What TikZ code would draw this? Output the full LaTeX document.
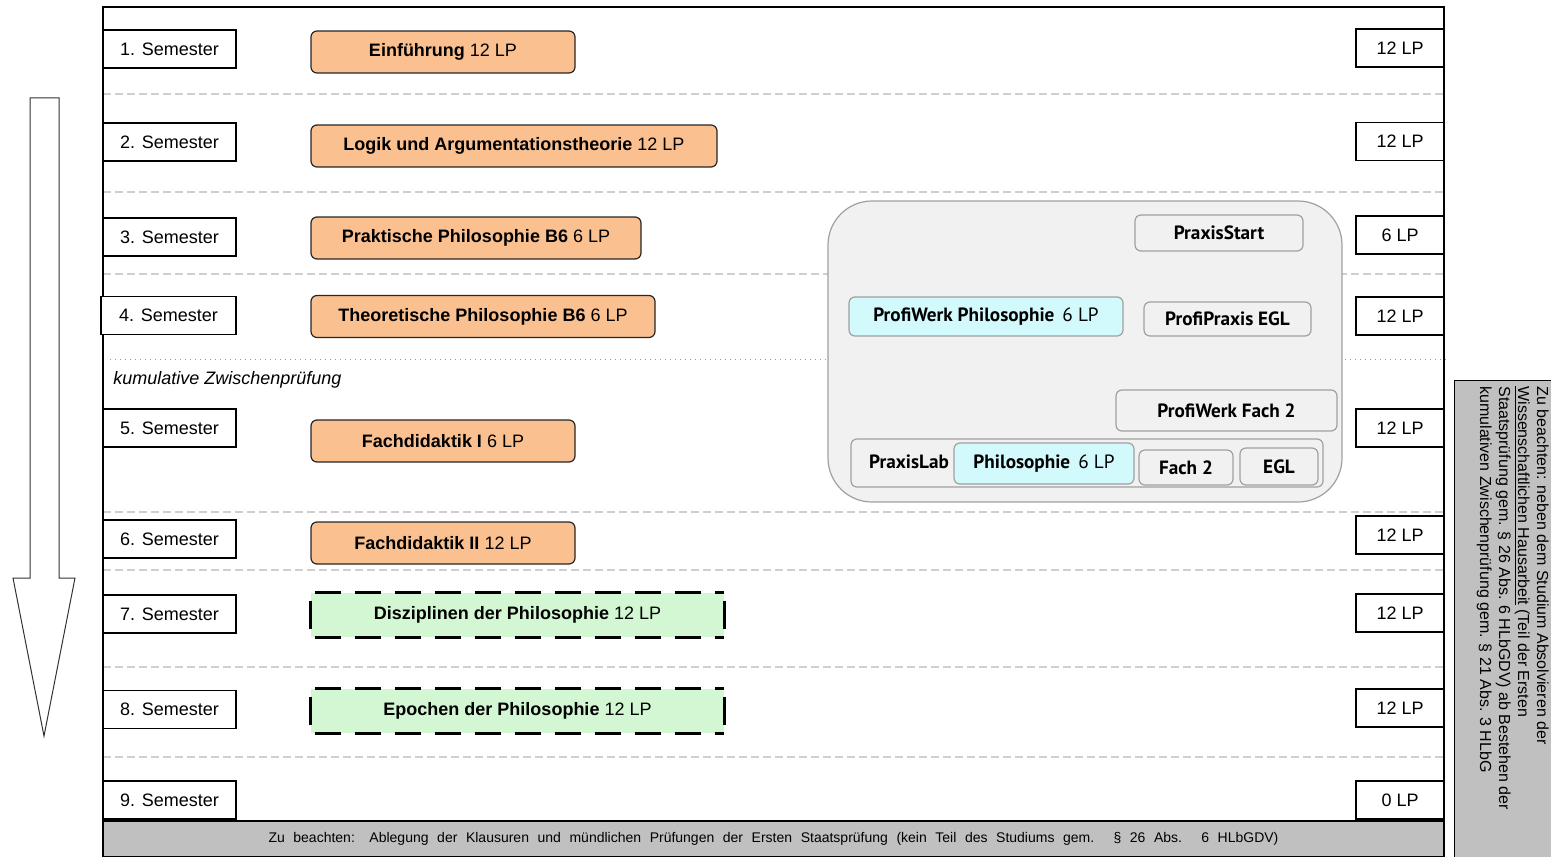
\documentclass[tikz,border=0pt]{standalone}
\usepackage{fontspec}
\setmainfont{Liberation Sans}
\newfontfamily\pxf{PT Sans}
\definecolor{orangefill}{HTML}{FAC090}
\definecolor{greenfill}{HTML}{D2F7D2}
\definecolor{cyanfill}{HTML}{D2F9FC}
\definecolor{pfill}{HTML}{F1F1F1}
\definecolor{pgray}{HTML}{A0A0A0}
\definecolor{barfill}{HTML}{C0C0C0}
\definecolor{sepgray}{HTML}{CFCFCF}
\tikzset{
  semb/.style={draw=black, line width=0.7pt, fill=white, minimum width=66.5pt, minimum height=19pt, inner sep=0pt, font=\fontsize{9}{10}\selectfont},
  lpb/.style={semb, minimum width=44pt},
  modb/.style={draw=black!85, line width=0.6pt, fill=orangefill, rounded corners=3pt, minimum height=21pt, inner sep=0pt, font=\fontsize{9}{10}\selectfont},
  gmod/.style={fill=greenfill, minimum width=206.5pt, minimum height=22pt, inner sep=0pt, font=\fontsize{9}{10}\selectfont},
  gdash/.style={line width=1.5pt, dash pattern=on 13pt off 7pt},
  gside/.style={line width=1.5pt},
  pbox/.style={draw=pgray, line width=0.6pt, fill=pfill, rounded corners=3pt, inner sep=0pt, font=\pxf\bfseries\fontsize{9.6}{11}\selectfont},
  cbox/.style={pbox, fill=cyanfill},
  sepline/.style={draw=sepgray, line width=0.6pt, dash pattern=on 4pt off 2pt},
}
\begin{document}
\begin{tikzpicture}[x=0.5pt,y=-0.5pt]
\useasboundingbox (0,0) rectangle (1551,856);
% separators
\foreach \yy in {94,192,274,512,570,667,757}{
  \draw[sepline] (103,\yy) -- (1444,\yy);
}
\draw[gray!80, line width=0.5pt, dotted] (110,359) -- (1448,359);
\node[anchor=west, inner sep=0pt, font=\itshape\fontsize{9}{10}\selectfont] (kz) at (113,380) {kumulative Zwischenprüfung};

% praxis area
\node[draw=pgray, line width=0.6pt, fill=pfill, rounded corners=22pt, minimum width=257pt, minimum height=150.5pt, inner sep=0pt] (praxis) at (1085,351.5) {};
\node[pbox, minimum width=84pt, minimum height=18pt] (ps) at (1219,233) {PraxisStart};
\node[cbox, minimum width=137pt, minimum height=19.5pt] (pwp) at (986,316.5) {ProfiWerk Philosophie\, {\mdseries 6 LP}};
\node[pbox, minimum width=83.5pt, minimum height=17pt] (ppe) at (1227.5,319) {ProfiPraxis EGL};
\node[pbox, minimum width=110.5pt, minimum height=20.5pt] (pwf) at (1226.5,410.5) {ProfiWerk Fach 2};
\node[pbox, minimum width=236pt, minimum height=24pt] (plab) at (1087,463) {};
\node[inner sep=0pt, font=\pxf\bfseries\fontsize{9.6}{11}\selectfont] (plabt) at (909,462) {PraxisLab};
\node[cbox, minimum width=90pt, minimum height=20.5pt] (plph) at (1044,463.5) {Philosophie\, {\mdseries 6 LP}};
\node[pbox, minimum width=47pt, minimum height=17.5pt] (plf) at (1186,467.5) {Fach 2};
\node[pbox, minimum width=39pt, minimum height=18.5pt] (ple) at (1279,466.5) {EGL};

% frame
\draw[line width=0.8pt] (103,860) -- (103,7) -- (1444,7) -- (1444,860);

% arrow
\draw[black!80, line width=0.5pt, fill=white] (30,98) -- (59,98) -- (59,578) -- (75,578) -- (44,736) -- (13,578) -- (30,578) -- cycle;

% semesters
\node[semb] (s1) at (169.5,49) {1. Semester};
\node[semb] (s2) at (169.5,142) {2. Semester};
\node[semb] (s3) at (169.5,237) {3. Semester};
\node[semb, minimum width=67.5pt] (s4) at (168.5,315.5) {4. Semester};
\node[semb] (s5) at (169.5,428) {5. Semester};
\node[semb] (s6) at (169.5,539) {6. Semester};
\node[semb] (s7) at (169.5,614) {7. Semester};
\node[semb] (s8) at (169.5,709.5) {8. Semester};
\node[semb] (s9) at (169.5,800) {9. Semester};

% LP
\node[lpb] (l1) at (1400,48) {12 LP};
\node[lpb] (l2) at (1400,141.5) {12 LP};
\node[lpb] (l3) at (1400,235) {6 LP};
\node[lpb] (l4) at (1400,316) {12 LP};
\node[lpb] (l5) at (1400,428) {12 LP};
\node[lpb] (l6) at (1400,535) {12 LP};
\node[lpb] (l7) at (1400,613) {12 LP};
\node[lpb] (l8) at (1400,708) {12 LP};
\node[lpb] (l9) at (1400,800) {0 LP};

% modules
\node[modb, minimum width=132pt] (m1) at (443,52) {\textbf{Einführung} 12 LP};
\node[modb, minimum width=203pt] (m2) at (514,146) {\textbf{Logik und Argumentationstheorie} 12 LP};
\node[modb, minimum width=165pt] (m3) at (476,238) {\textbf{Praktische Philosophie B6} 6 LP};
\node[modb, minimum width=172pt] (m4) at (483,316.5) {\textbf{Theoretische Philosophie B6} 6 LP};
\node[modb, minimum width=132pt] (m5) at (443,441) {\textbf{Fachdidaktik I} 6 LP};
\node[modb, minimum width=132pt] (m6) at (443,543) {\textbf{Fachdidaktik II} 12 LP};

\node[gmod] (g7) at (517.5,615) {\textbf{Disziplinen der Philosophie} 12 LP};
\node[gmod] (g8) at (517.5,711) {\textbf{Epochen der Philosophie} 12 LP};
\foreach \g in {g7,g8}{
  \draw[gdash] ([xshift=2pt]\g.north west) -- (\g.north east);
  \draw[gdash] ([xshift=2pt]\g.south west) -- (\g.south east);
  \draw[gside] ([yshift=-4pt]\g.north west) -- ([yshift=4pt]\g.south west);
  \draw[gside] ([yshift=-4pt]\g.north east) -- ([yshift=4pt]\g.south east);
}

% bottom bar
\node[draw=black, line width=0.7pt, fill=barfill, minimum width=670.5pt, minimum height=18pt, inner sep=0pt, font=\fontsize{7}{8}\selectfont] (bar) at (773.5,839) {\makebox[505pt][s]{Zu beachten: Ablegung der Klausuren und mündlichen Prüfungen der Ersten Staatsprüfung (kein Teil des Studiums gem. § 26 Abs. 6 HLbGDV)}};

% right note
\node[draw=black, line width=0.6pt, fill=barfill, minimum width=51pt, minimum height=240pt, inner sep=0pt, anchor=north west] (notebox) at (1454,380) {};
\node[rotate=-90, anchor=north west, align=left, inner sep=0pt, font=\fontsize{8}{9.5}\selectfont] (note) at (1549,386) {Zu beachten: neben dem Studium Absolvieren der\\\underline{Wissenschaftlichen Hausarbeit} (Teil der Ersten\\Staatsprüfung gem. § 26 Abs. 6 HLbGDV) ab Bestehen der\\kumulativen Zwischenprüfung gem. § 21 Abs. 3 HLbG};
\end{tikzpicture}
\end{document}
